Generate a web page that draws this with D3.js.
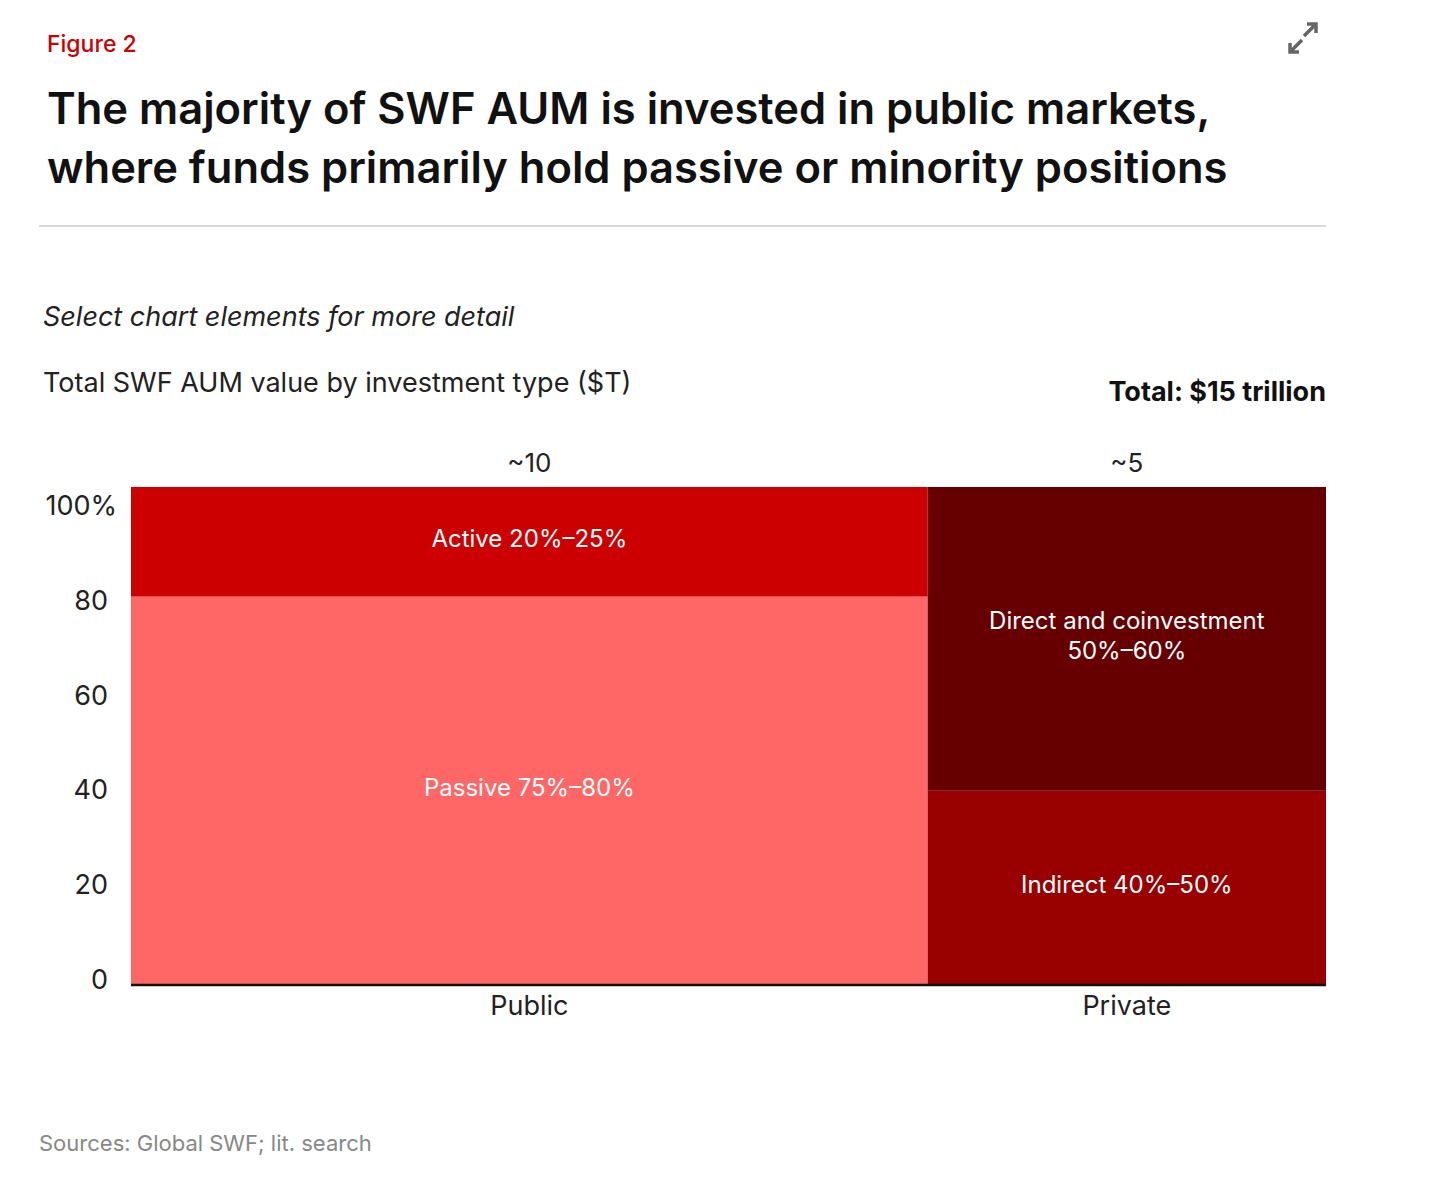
<!DOCTYPE html>
<html><head><meta charset="utf-8">
<script src="https://cdn.jsdelivr.net/npm/d3@7"></script>
<style>body{margin:0;background:#fff;font-family:Inter,"Open Sans",sans-serif;}</style>
</head><body><svg id="c" width="1456" height="1177"></svg>
<script>
const categories = ["Public", "Private"];
const totals = [10, 5];
const totalLabels = ["~10", "~5"];
const segments = [
  [{name:"Passive 75%–80%", value:78, color:"#FF6666"}, {name:"Active 20%–25%", value:22, color:"#CC0000"}],
  [{name:"Indirect 40%–50%", value:39, color:"#990000"}, {name:"Direct and coinvestment\n50%–60%", value:61, color:"#660000"}]
];
const yTicks = [0,20,40,60,80,100];

const svg = d3.select("#c");
svg.append("text").attr("x",47).attr("y",52).attr("fill","#CC0000").attr("font-size",23).attr("font-weight",500).text("Figure 2");
svg.append("text").attr("x",47).attr("y",124).attr("font-size",43.5).attr("font-weight",600).attr("fill","#111").text("The majority of SWF AUM is invested in public markets,");
svg.append("text").attr("x",47).attr("y",183).attr("font-size",43.5).attr("font-weight",600).attr("fill","#111").text("where funds primarily hold passive or minority positions");
svg.append("line").attr("x1",39).attr("x2",1326).attr("y1",226).attr("y2",226).attr("stroke","#ccc").attr("stroke-width",1.5);
// expand icon
const ic = svg.append("g").attr("stroke","#666").attr("stroke-width",3.5).attr("fill","none");
ic.append("path").attr("d","M1304,36 L1316,24 M1307,24 L1316,24 L1316,33");
ic.append("path").attr("d","M1302,40 L1290,52 M1290,43 L1290,52 L1299,52");
svg.append("text").attr("x",43).attr("y",326).attr("font-size",27).attr("font-style","italic").attr("fill","#222").text("Select chart elements for more detail");
svg.append("text").attr("x",43).attr("y",392).attr("font-size",27).attr("fill","#222").text("Total SWF AUM value by investment type ($T)");
svg.append("text").attr("x",1326).attr("y",401).attr("text-anchor","end").attr("font-size",27).attr("font-weight",700).attr("fill","#111").text("Total: $15 trillion");

const L=131,R=1326,T=487,B=985;
const x = d3.scaleLinear().domain([0,d3.sum(totals)]).range([L,R]);
const y = d3.scaleLinear().domain([0,100]).range([B,T]);
const yl = d3.scaleLinear().domain([0,100]).range([980,506]);
let cum=0;
categories.forEach((c,i)=>{
  const x0=x(cum), x1=x(cum+totals[i]); cum+=totals[i];
  const cx=(x0+x1)/2;
  let acc=0;
  segments[i].forEach(s=>{
    const y0=y(acc), y1=y(acc+s.value); acc+=s.value;
    svg.append("rect").attr("x",x0).attr("y",y1).attr("width",x1-x0).attr("height",y0-y1).attr("fill",s.color);
    const lines=s.name.split("\n"); const my=(y0+y1)/2;
    lines.forEach((ln,k)=>svg.append("text").attr("x",cx).attr("y",my+5+(k-(lines.length-1)/2)*30)
      .attr("text-anchor","middle").attr("fill","#fff").attr("font-size",24).text(ln));
  });
  svg.append("text").attr("x",cx).attr("y",472).attr("text-anchor","middle").attr("font-size",26).attr("fill","#222").text(totalLabels[i]);
  svg.append("text").attr("x",cx).attr("y",1015).attr("text-anchor","middle").attr("font-size",27).attr("fill","#222").text(c);
});
svg.append("line").attr("x1",L).attr("x2",R).attr("y1",B).attr("y2",B).attr("stroke","#111").attr("stroke-width",2.5);
yTicks.forEach(t=>svg.append("text").attr("x",t===100?117:108).attr("y",yl(t)+9).attr("text-anchor","end").attr("font-size",27).attr("fill","#222").text(t===100?"100%":t));
svg.append("text").attr("x",39).attr("y",1151).attr("font-size",22).attr("fill","#888").text("Sources: Global SWF; lit. search");
</script></body></html>
